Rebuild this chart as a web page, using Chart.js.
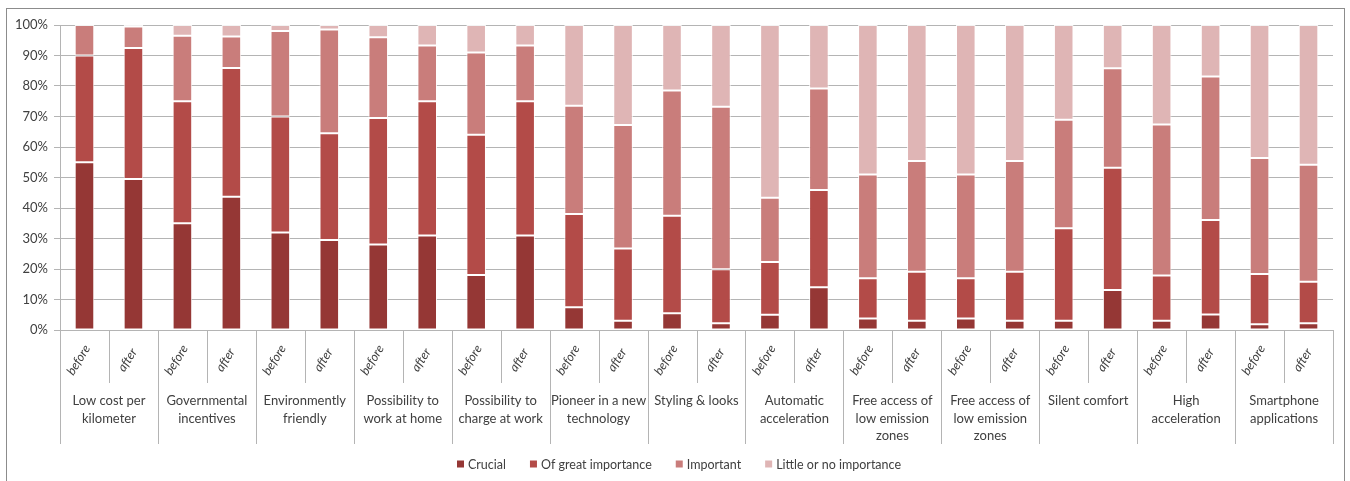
<!DOCTYPE html>
<html>
<head>
<meta charset="utf-8">
<script src="https://cdn.jsdelivr.net/npm/chart.js@4/dist/chart.umd.min.js"></script>
<style>
  html, body { margin: 0; padding: 0; background: #fff; }
  #wrap { position: relative; width: 1350px; height: 481px; }
  #frame { position: absolute; left: 6px; top: 8px; width: 1337px; height: 480px; border: 1.5px solid #8c8c8c; border-bottom: none; pointer-events: none; }
  canvas { position: absolute; left: 0; top: 0; }
</style>
</head>
<body>
<div id="wrap">
  <canvas id="chart" width="1350" height="481"></canvas>
  <div id="frame"></div>
</div>
<script>
const groups = [
  ['Low cost per', 'kilometer'],
  ['Governmental', 'incentives'],
  ['Environmently', 'friendly'],
  ['Possibility to', 'work at home'],
  ['Possibility to', 'charge at work'],
  ['Pioneer in a new', 'technology'],
  ['Styling & looks'],
  ['Automatic', 'acceleration'],
  ['Free access of', 'low emission', 'zones'],
  ['Free access of', 'low emission', 'zones'],
  ['Silent comfort'],
  ['High', 'acceleration'],
  ['Smartphone', 'applications'],
];
const phases = ['before', 'after'];
const yTicks = [0, 10, 20, 30, 40, 50, 60, 70, 80, 90, 100];

const seriesNames = ['Crucial', 'Of great importance', 'Important', 'Little or no importance'];
const seriesColors = ['#953735', '#b34b48', '#c97d7b', '#dfb5b5'];

const crucial = [55, 49.5, 35, 43.7, 32, 29.5, 28, 31, 18, 31, 7.5, 3, 5.5, 2.2, 5, 14, 3.8, 3, 3.8, 3, 3, 13.1, 3, 5.1, 1.9, 2.2];
const greatImportance = [35, 43, 40, 42.2, 38, 35, 41.5, 44, 46, 44, 30.5, 23.7, 32, 17.7, 17.3, 31.9, 13.2, 16.1, 13.2, 16.1, 30.4, 40.1, 14.9, 31, 16.5, 13.6];
const important = [10, 7, 21.5, 10.3, 28, 34, 26.5, 18.3, 27, 18.3, 35.5, 40.5, 41, 53.3, 21.1, 33.3, 34, 36.3, 34, 36.3, 35.5, 32.6, 49.5, 47, 38, 38.4];
const littleImportance = [0, 0.5, 3.5, 3.8, 2, 1.5, 4, 6.7, 9, 6.7, 26.5, 32.8, 21.5, 26.8, 56.6, 20.8, 49, 44.6, 49, 44.6, 31.1, 14.2, 32.6, 16.9, 43.6, 45.8];

const seriesData = [crucial, greatImportance, important, littleImportance];
const labels = [];
groups.forEach((g) => phases.forEach((p) => labels.push(p)));

const FONT = 'Lato, "Liberation Sans", sans-serif';
const TEXT = '#404040';
const LINE = '#b4b4b4';

// group labels, separators and legend under the plot
const axisExtras = {
  id: 'axisExtras',
  afterDraw(chart) {
    const { ctx, chartArea, scales } = chart;
    const x = scales.x;
    const bottom = chartArea.bottom;
    const half = (x.getPixelForValue(1) - x.getPixelForValue(0)) / 2;
    ctx.save();
    ctx.strokeStyle = LINE;
    ctx.lineWidth = 1;
    // separators
    for (let i = 0; i <= labels.length; i++) {
      const px = Math.round(i < labels.length ? x.getPixelForValue(i) - half : x.getPixelForValue(i - 1) + half) + 0.5;
      const len = i % 2 === 0 ? 114 : 53;
      ctx.beginPath();
      ctx.moveTo(px, bottom);
      ctx.lineTo(px, bottom + len);
      ctx.stroke();
    }
    // rotated before / after
    ctx.fillStyle = TEXT;
    ctx.font = 'italic 12.5px ' + FONT;
    ctx.textAlign = 'center';
    ctx.textBaseline = 'middle';
    labels.forEach((lab, i) => {
      const cx = x.getPixelForValue(i) - 6;
      ctx.save();
      ctx.translate(cx, bottom + 30);
      ctx.rotate(-58 * Math.PI / 180);
      ctx.fillText(lab, 0, 0);
      ctx.restore();
    });
    // group names
    ctx.font = '13px ' + FONT;
    groups.forEach((lines, g) => {
      const cx = (x.getPixelForValue(g * 2) + x.getPixelForValue(g * 2 + 1)) / 2;
      lines.forEach((line, k) => {
        ctx.fillText(line, cx, bottom + 71 + k * 17.5);
      });
    });
    // legend
    ctx.font = '12.5px ' + FONT;
    ctx.textAlign = 'left';
    const gap = 24;
    const box = 7;
    const widths = seriesNames.map((n) => box + 4 + ctx.measureText(n).width);
    const total = widths.reduce((a, b) => a + b, 0) + gap * (seriesNames.length - 1);
    let lx = chart.width / 2 - total / 2 + 4;
    const ly = 464;
    seriesNames.forEach((n, i) => {
      ctx.fillStyle = seriesColors[i];
      ctx.fillRect(lx, ly - box / 2, box, box);
      ctx.fillStyle = TEXT;
      ctx.fillText(n, lx + box + 4, ly + 0.5);
      lx += widths[i] + gap;
    });
    ctx.restore();
  },
};

new Chart(document.getElementById('chart').getContext('2d'), {
  type: 'bar',
  data: {
    labels: labels,
    datasets: seriesNames.map((name, i) => ({
      label: name,
      data: seriesData[i],
      backgroundColor: seriesColors[i],
      borderColor: 'rgba(255,255,255,0.85)',
      borderWidth: 1,
      borderSkipped: false,
      categoryPercentage: 1,
      barPercentage: 0.4,
    })),
  },
  options: {
    responsive: false,
    animation: false,
    events: [],
    layout: { padding: { left: 0, top: 25, right: 17, bottom: 0 } },
    scales: {
      x: {
        stacked: true,
        grid: { display: false },
        border: { display: true, color: LINE },
        ticks: { display: false },
        afterFit: (scale) => { scale.height = 151; },
      },
      y: {
        stacked: true,
        min: 0,
        max: 100,
        afterBuildTicks: (scale) => { scale.ticks = yTicks.map((v) => ({ value: v })); },
        afterFit: (scale) => { scale.width = 60; },
        grid: { color: LINE, tickLength: 6, tickColor: LINE },
        border: { display: true, color: LINE },
        ticks: {
          padding: 6,
          color: TEXT,
          font: { family: FONT, size: 13 },
          callback: (v) => v + '%',
        },
      },
    },
    plugins: {
      legend: { display: false },
      tooltip: { enabled: false },
    },
  },
  plugins: [axisExtras],
});
</script>
</body>
</html>
